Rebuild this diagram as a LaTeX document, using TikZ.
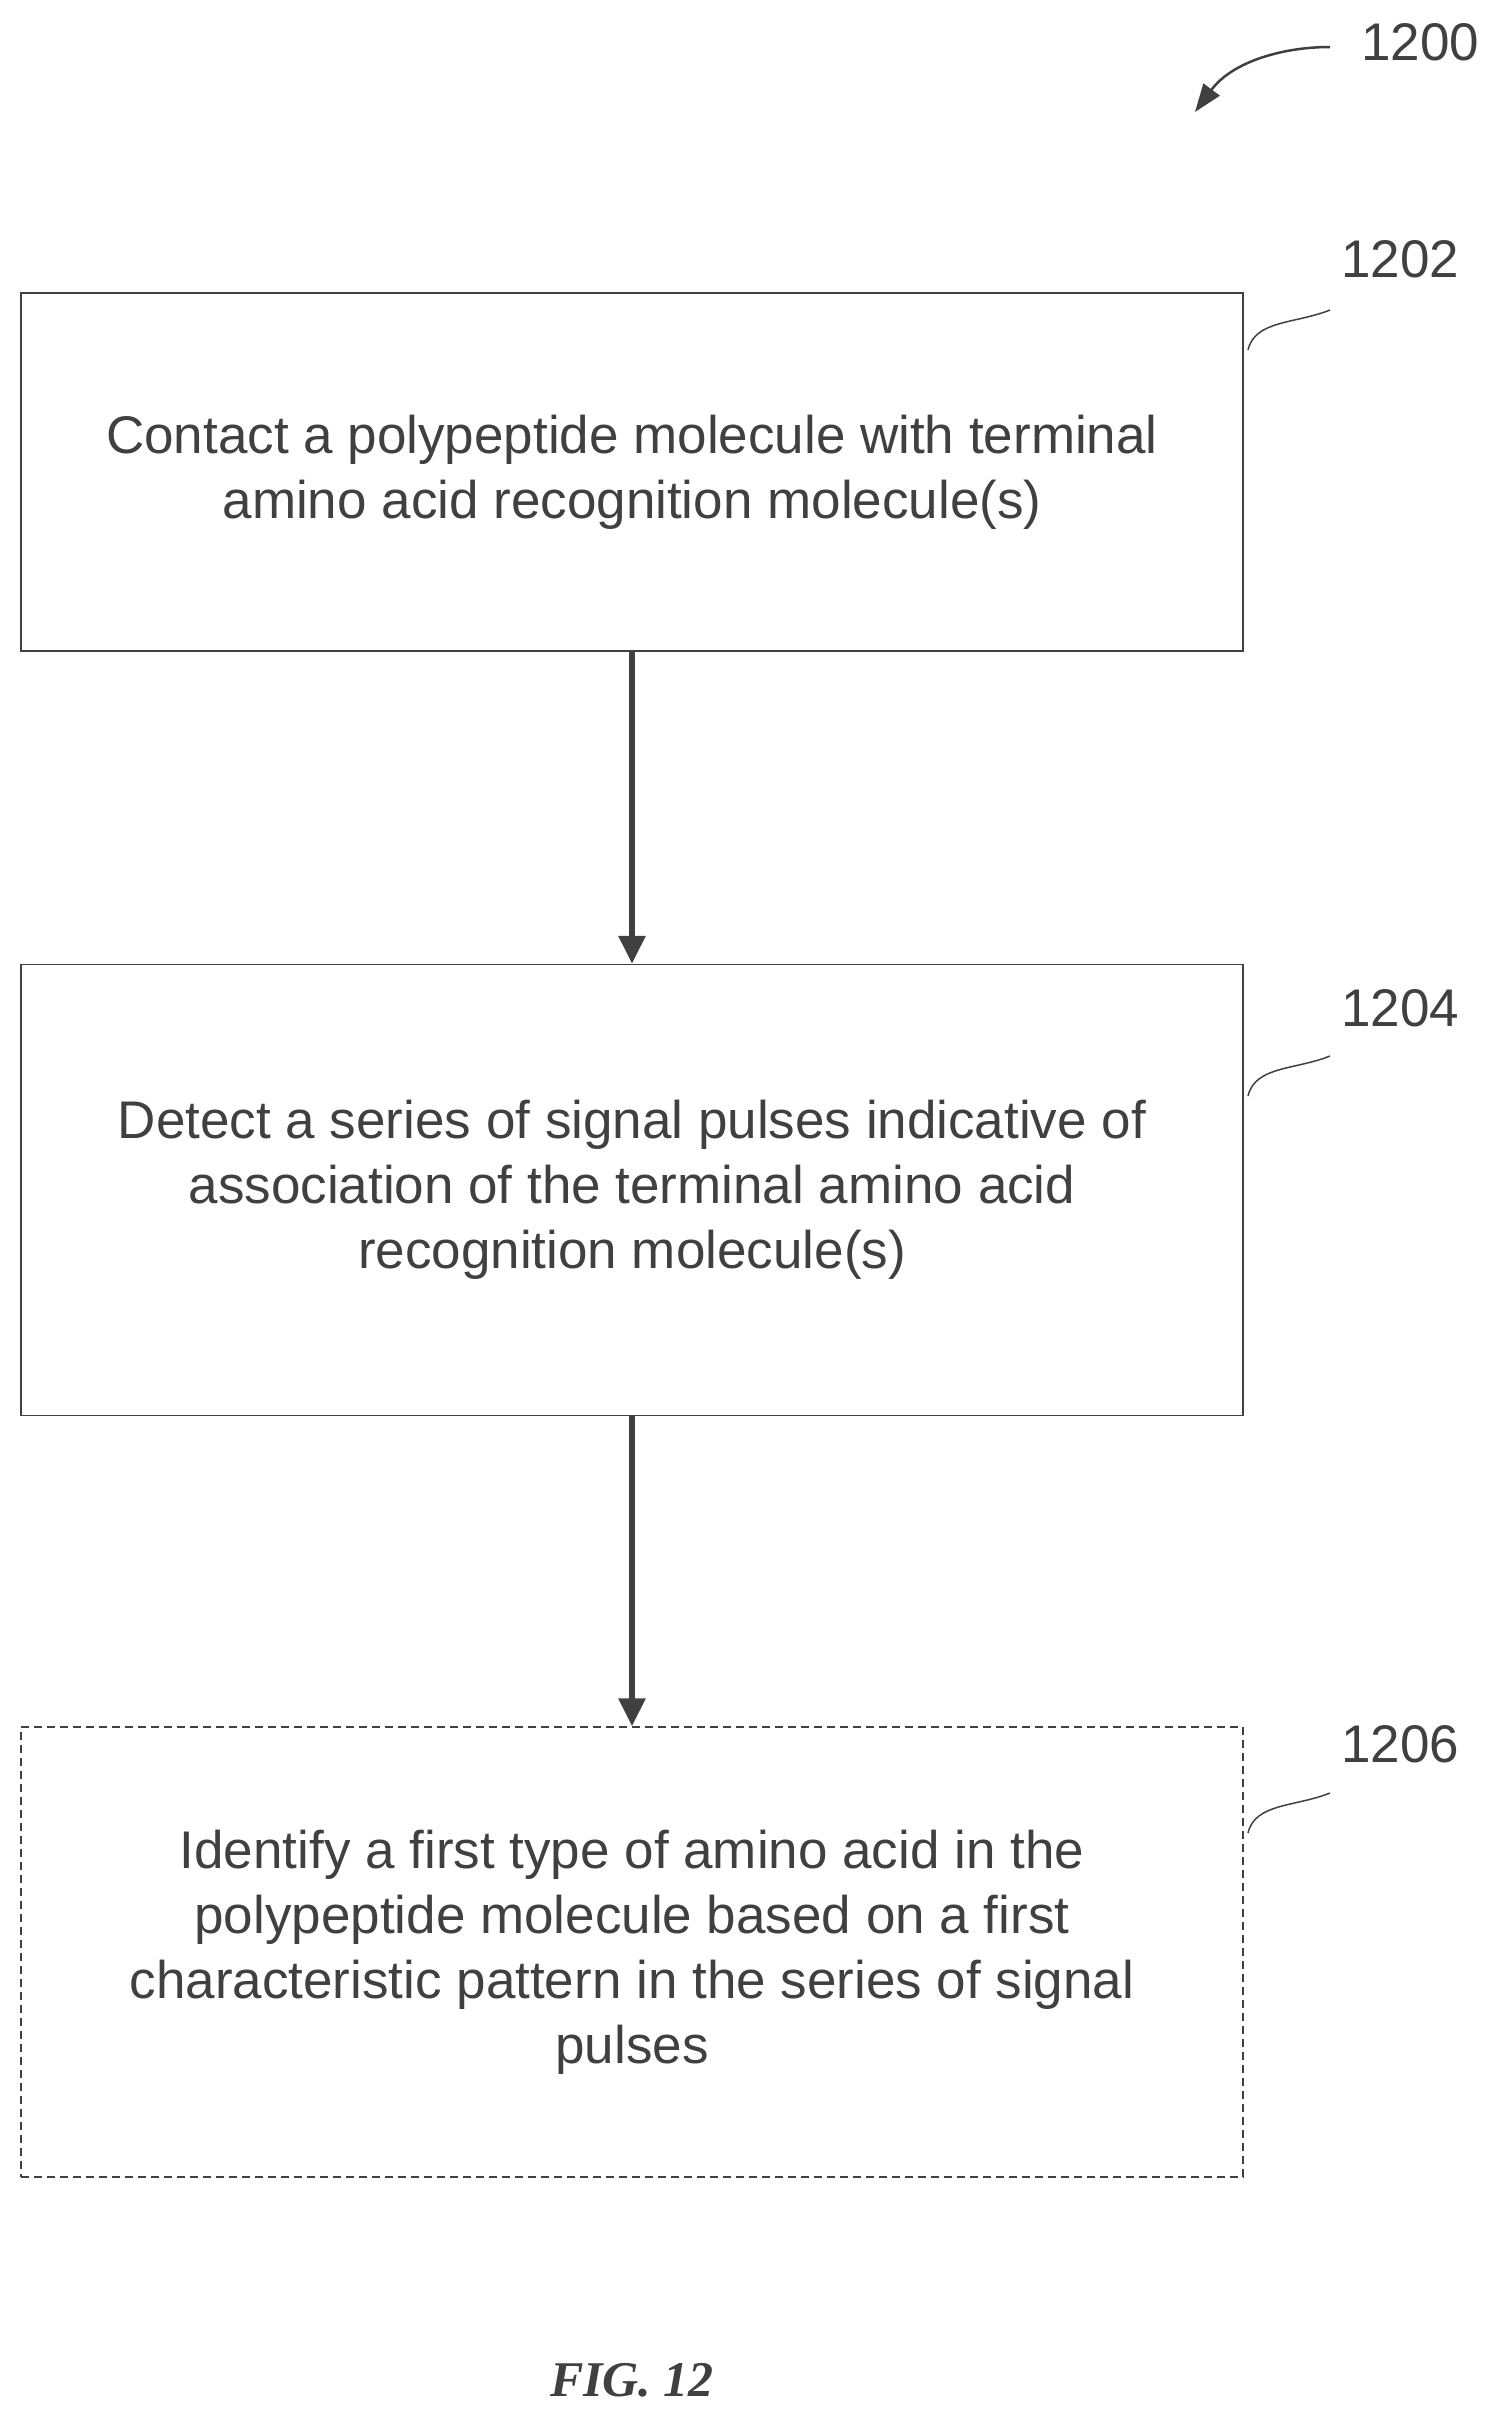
\documentclass[tikz,border=0pt]{standalone}
\usepackage{fontspec}
\setmainfont{Liberation Sans}
\newfontfamily\figfont{Liberation Serif}
\usetikzlibrary{arrows.meta}
\definecolor{ink}{HTML}{404040}
\begin{document}
\begin{tikzpicture}[x=1pt,y=-1pt,
  box/.style={draw=ink,line width=1.5pt,minimum width=1222pt,inner sep=0pt},
  txt/.style={text=ink,font=\fontsize{53}{65}\selectfont,align=center},
  lab/.style={text=ink,font=\fontsize{53}{60}\selectfont},
  arr/.style={draw=ink,line width=6pt,-{Triangle[length=28pt,width=26pt]}},
  sq/.style={draw=ink,line width=1.5pt}]
\useasboundingbox (0,0) rectangle (1498,2414);
\node[box,minimum height=358pt] (b1) at (632,472) {};
\node[box,minimum height=451pt] (b2) at (632,1190) {};
\node[box,dashed,dash pattern=on 8pt off 5pt,minimum height=450pt] (b3) at (632,1952) {};
\node[txt] (t1) at (b1.center) {Contact a polypeptide molecule with terminal\\amino acid recognition molecule(s)};
\node[txt] (t2) at (b2.center) {Detect a series of signal pulses indicative of\\association of the terminal amino acid\\recognition molecule(s)};
\node[txt] (t3) at (b3.center) {Identify a first type of amino acid in the\\polypeptide molecule based on a first\\characteristic pattern in the series of signal\\pulses};
\draw[arr] (b1.south) -- (b2.north);
\draw[arr] (b2.south) -- (b3.north);
\node[lab] (l0) at (1420,42) {1200};
\node[lab] (l1) at (1400,259) {1202};
\node[lab] (l2) at (1400,1008) {1204};
\node[lab] (l3) at (1400,1744) {1206};
\coordinate (a0) at (1330,47);
\coordinate (a1) at (1195,112);
\draw[draw=ink,line width=2.5pt,-{Triangle[length=28pt,width=20pt]}] (a0) .. controls (1282,47) and (1232,62) .. (a1);
\foreach \i/\y in {1/310,2/1056,3/1793}{
  \coordinate (s\i a) at (1248,\y+40);
  \coordinate (s\i b) at (1330,\y);
  \draw[sq] (s\i a) .. controls (1255,\y+10) and (1295,\y+14) .. (s\i b);
}
\node[text=ink,font=\figfont\bfseries\itshape\fontsize{50}{60}\selectfont] (fig) at (632,2380) {FIG. 12};
\end{tikzpicture}
\end{document}
